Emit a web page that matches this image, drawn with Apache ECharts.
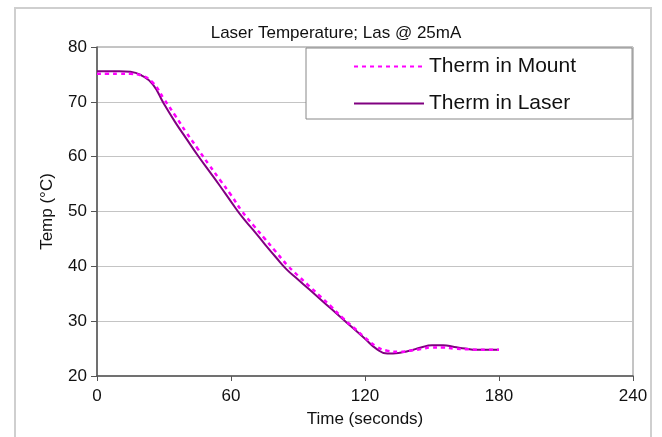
<!DOCTYPE html>
<html>
<head>
<meta charset="utf-8">
<script src="https://cdn.jsdelivr.net/npm/echarts@6/dist/echarts.min.js"></script>
<style>
  html, body { margin: 0; padding: 0; background: #fff; }
  #chart { width: 662px; height: 437px; }
</style>
</head>
<body>
<div id="chart"></div>
<script>
// time axis (seconds)
const times = [0, 5, 10, 15, 20, 25, 30, 35, 40, 45, 50, 55, 60, 65, 70, 75, 80, 85, 90,
  95, 100, 105, 110, 115, 120, 125, 130, 135, 140, 145, 150, 155, 160, 165, 170, 175, 180];
// thermistor in mount (deg C)
const mountTemp = [75.1, 75.1, 75.1, 75.1, 74.8, 73.5, 70.5, 67.5, 64.4, 61.5, 58.6, 55.8, 53.0,
  50.0, 47.5, 45.1, 42.7, 40.3, 38.3, 36.4, 34.5, 32.6, 30.6, 28.8, 27.0, 25.4, 24.6, 24.4,
  24.6, 24.9, 25.2, 25.2, 25.0, 24.9, 24.8, 24.8, 24.8];
// thermistor in laser (deg C)
const laserTemp = [75.6, 75.6, 75.6, 75.5, 74.8, 73.2, 69.6, 66.3, 63.3, 60.3, 57.5, 54.7, 51.8,
  49.0, 46.6, 44.1, 41.7, 39.4, 37.6, 35.8, 34.0, 32.2, 30.4, 28.6, 26.8, 25.0, 24.1, 24.2,
  24.6, 25.2, 25.6, 25.6, 25.3, 25.0, 24.8, 24.8, 24.8];
const seriesNames = ['Therm in Mount', 'Therm in Laser'];

const font = 'Liberation Sans, Arial, sans-serif';
const pairs = (ys) => times.map((t, i) => [t, ys[i]]);

let myChart = echarts.init(document.getElementById('chart'));
const option = {
  animation: false,
  textStyle: { fontFamily: font },
  graphic: [
    {
      type: 'rect',
      shape: { x: 15, y: 8, width: 636, height: 440 },
      style: { fill: 'none', stroke: '#cfcfcf', lineWidth: 2 },
      silent: true
    }
  ],
  title: {
    text: 'Laser Temperature; Las @ 25mA',
    left: 331,
    top: 20,
    textAlign: 'center',
    textStyle: { fontSize: 17, fontWeight: 'normal', color: '#111', fontFamily: font }
  },
  grid: {
    left: 97,
    right: 29,
    top: 47,
    bottom: 61,
    show: true,
    borderColor: '#8a8a8a',
    borderWidth: 1
  },
  legend: {
    orient: 'vertical',
    left: 306,
    top: 48,
    data: seriesNames,
    backgroundColor: '#fff',
    borderColor: '#888',
    borderWidth: 1,
    padding: [8, 56, 5, 47],
    itemWidth: 70,
    itemHeight: 20,
    itemGap: 16,
    itemStyle: { opacity: 0 },
    textStyle: { fontSize: 21, color: '#111', fontFamily: font }
  },
  xAxis: {
    type: 'value',
    min: 0,
    max: 240,
    interval: 60,
    name: 'Time (seconds)',
    nameLocation: 'middle',
    nameGap: 35,
    nameTextStyle: { fontSize: 17, color: '#111' },
    axisLine: { lineStyle: { color: '#555', width: 1.5 } },
    axisTick: { show: true, length: 5, lineStyle: { color: '#555' } },
    axisLabel: { fontSize: 17, color: '#111', margin: 12 },
    splitLine: { show: false }
  },
  yAxis: {
    type: 'value',
    min: 20,
    max: 80,
    interval: 10,
    name: 'Temp (°C)',
    nameLocation: 'middle',
    nameGap: 41,
    nameTextStyle: { fontSize: 17, color: '#111' },
    axisLine: { show: true, lineStyle: { color: '#555', width: 1.5 } },
    axisTick: { show: true, length: 6, lineStyle: { color: '#555' } },
    axisLabel: { fontSize: 17, color: '#111', margin: 10 },
    splitLine: { show: true, lineStyle: { color: '#c4c4c4', width: 1.2 } }
  },
  series: [
    {
      name: seriesNames[0],
      type: 'line',
      smooth: true,
      symbol: 'none',
      data: pairs(mountTemp),
      itemStyle: { color: '#ff00ff' },
      lineStyle: { color: '#ff00ff', width: 2.5, type: [4, 4] },
      z: 3
    },
    {
      name: seriesNames[1],
      type: 'line',
      smooth: true,
      symbol: 'none',
      data: pairs(laserTemp),
      itemStyle: { color: '#800080' },
      lineStyle: { color: '#800080', width: 2 },
      z: 2
    }
  ]
};
myChart.setOption(option);
window.onresize = myChart.resize;
</script>
</body>
</html>
